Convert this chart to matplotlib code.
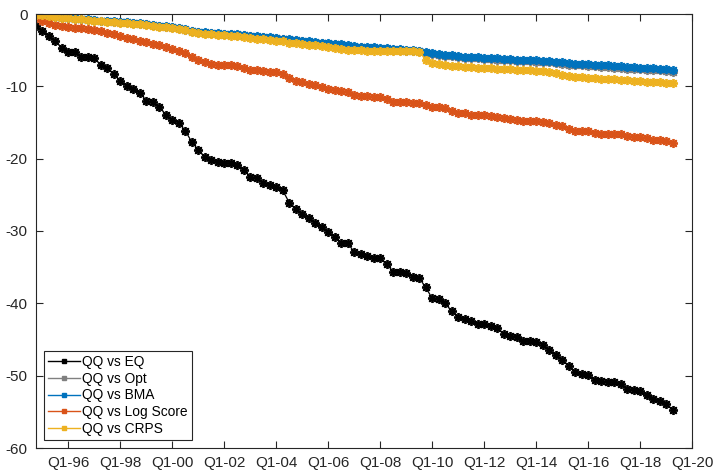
import matplotlib
matplotlib.use("Agg")
import matplotlib.pyplot as plt
from matplotlib.lines import Line2D
import numpy as np

plt.rcParams['font.family'] = ['Liberation Sans', 'DejaVu Sans']
plt.rcParams['axes.unicode_minus'] = False

# quarters from Q4-94 to Q2-19 (index 0..98)
tick_pos = [5, 13, 21, 29, 37, 45, 53, 61, 69, 77, 85, 93, 101]
tick_labels = ["Q1-96", "Q1-98", "Q1-00", "Q1-02", "Q1-04", "Q1-06", "Q1-08",
               "Q1-10", "Q1-12", "Q1-14", "Q1-16", "Q1-18", "Q1-20"]
y_ticks = [0, -10, -20, -30, -40, -50, -60]

qq_eq = [-1.6, -2.3, -3.0, -3.8, -4.7, -5.2, -5.2, -5.9, -5.9, -6.1,
         -7.1, -7.5, -8.3, -9.3, -9.9, -10.4, -10.9, -12.0, -12.2, -12.9,
         -13.9, -14.7, -15.0, -16.2, -17.7, -18.8, -19.8, -20.2, -20.4, -20.6,
         -20.6, -20.9, -21.5, -22.5, -22.7, -23.4, -23.7, -23.9, -24.4, -26.1,
         -26.9, -27.7, -28.2, -28.9, -29.5, -30.2, -30.8, -31.6, -31.7, -32.9,
         -33.2, -33.5, -33.8, -33.8, -34.6, -35.6, -35.7, -35.8, -36.3, -36.5,
         -37.8, -39.3, -39.4, -40.0, -41.1, -41.9, -42.2, -42.5, -42.9, -42.9,
         -43.1, -43.4, -44.2, -44.5, -44.6, -45.2, -45.2, -45.3, -45.7, -46.5,
         -47.1, -47.8, -48.6, -49.5, -49.8, -49.9, -50.6, -50.8, -50.9, -50.9,
         -51.1, -51.8, -52.0, -52.1, -52.7, -53.2, -53.5, -53.9, -54.7]

qq_opt = [-0.15, -0.25, -0.35, -0.4, -0.5, -0.55, -0.65, -0.7, -0.8, -0.85,
          -0.95, -1.0, -1.05, -1.1, -1.15, -1.25, -1.35, -1.45, -1.55, -1.65,
          -1.75, -1.85, -2.0, -2.15, -2.35, -2.5, -2.6, -2.65, -2.7, -2.75,
          -2.8, -2.85, -2.95, -3.05, -3.15, -3.2, -3.25, -3.35, -3.45, -3.55,
          -3.65, -3.8, -3.9, -3.95, -4.05, -4.1, -4.2, -4.3, -4.45, -4.55,
          -4.6, -4.65, -4.7, -4.8, -4.85, -4.95, -5.0, -5.05, -5.1, -5.15,
          -5.4, -5.55, -5.65, -5.75, -5.8, -5.9, -6.05, -6.1, -6.15, -6.2,
          -6.25, -6.3, -6.35, -6.4, -6.5, -6.5, -6.55, -6.6, -6.65, -6.7,
          -6.8, -6.9, -7.0, -7.05, -7.1, -7.15, -7.25, -7.3, -7.35, -7.4,
          -7.45, -7.55, -7.6, -7.65, -7.7, -7.75, -7.8, -7.9, -8.0]

qq_bma = [-0.1, -0.2, -0.3, -0.35, -0.45, -0.5, -0.6, -0.65, -0.75, -0.8,
          -0.9, -0.95, -1.0, -1.05, -1.1, -1.2, -1.3, -1.4, -1.5, -1.6,
          -1.7, -1.8, -1.95, -2.1, -2.3, -2.45, -2.55, -2.6, -2.65, -2.7,
          -2.75, -2.8, -2.9, -3.0, -3.1, -3.15, -3.2, -3.3, -3.4, -3.5,
          -3.6, -3.7, -3.8, -3.85, -3.95, -4.0, -4.1, -4.2, -4.35, -4.45,
          -4.5, -4.55, -4.6, -4.7, -4.75, -4.85, -4.9, -4.95, -5.0, -5.05,
          -5.25, -5.4, -5.5, -5.6, -5.65, -5.75, -5.9, -5.95, -6.0, -6.05,
          -6.1, -6.15, -6.2, -6.25, -6.3, -6.3, -6.35, -6.4, -6.45, -6.5,
          -6.6, -6.7, -6.8, -6.85, -6.9, -6.95, -7.0, -7.05, -7.1, -7.15,
          -7.2, -7.3, -7.35, -7.4, -7.45, -7.5, -7.55, -7.6, -7.7]

qq_log = [-0.5, -0.9, -1.2, -1.5, -1.7, -1.8, -1.9, -2.0, -2.1, -2.2,
          -2.3, -2.6, -2.8, -3.1, -3.3, -3.5, -3.7, -3.9, -4.1, -4.3,
          -4.6, -4.8, -5.1, -5.4, -6.0, -6.4, -6.7, -6.9, -7.0, -7.0,
          -7.05, -7.2, -7.5, -7.7, -7.8, -7.9, -7.97, -8.07, -8.3, -8.9,
          -9.2, -9.45, -9.7, -9.86, -10.05, -10.3, -10.5, -10.7, -10.8, -11.15,
          -11.3, -11.4, -11.5, -11.5, -11.7, -12.1, -12.1, -12.1, -12.3, -12.35,
          -12.6, -12.8, -12.8, -13.0, -13.4, -13.65, -13.7, -13.9, -13.9, -13.96,
          -14.06, -14.2, -14.4, -14.5, -14.6, -14.75, -14.75, -14.75, -14.9, -15.1,
          -15.4, -15.5, -15.85, -16.2, -16.2, -16.2, -16.5, -16.6, -16.55, -16.55,
          -16.6, -16.9, -16.95, -16.95, -17.2, -17.4, -17.4, -17.6, -17.8]

qq_crps = [-0.1, -0.2, -0.3, -0.4, -0.5, -0.55, -0.65, -0.7, -0.8, -0.9,
           -0.95, -1.05, -1.1, -1.2, -1.25, -1.35, -1.45, -1.55, -1.65, -1.75,
           -1.85, -1.95, -2.1, -2.25, -2.45, -2.6, -2.75, -2.8, -2.85, -2.9,
           -3.0, -3.1, -3.2, -3.3, -3.4, -3.5, -3.6, -3.7, -3.8, -3.95,
           -4.05, -4.15, -4.25, -4.35, -4.45, -4.6, -4.7, -4.85, -4.95, -5.0,
           -5.0, -5.05, -5.05, -5.1, -5.1, -5.1, -5.15, -5.15, -5.15, -5.2,
           -6.3, -6.8, -6.95, -7.05, -7.15, -7.25, -7.3, -7.35, -7.4, -7.45,
           -7.5, -7.55, -7.6, -7.65, -7.7, -7.75, -7.8, -7.85, -7.9, -8.0,
           -8.2, -8.4, -8.55, -8.65, -8.75, -8.85, -8.9, -8.95, -9.0, -9.05,
           -9.1, -9.15, -9.2, -9.3, -9.35, -9.4, -9.45, -9.5, -9.6]

series = [("QQ vs EQ", qq_eq, "black"),
          ("QQ vs Opt", qq_opt, "#808080"),
          ("QQ vs BMA", qq_bma, "#0072BD"),
          ("QQ vs Log Score", qq_log, "#D95319"),
          ("QQ vs CRPS", qq_crps, "#EDB120")]

axis_col = "#262626"
asterisk = (8, 2, 0)

fig = plt.figure(figsize=(7.15, 4.72), dpi=100)
ax = fig.add_axes([36 / 715, 24 / 472, 656 / 715, 434 / 472])

handles = []
for label, values, col in series:
    x = np.arange(len(values))
    ax.plot(x, values, color=col, linewidth=0.9, marker=asterisk,
            markersize=6.5, markeredgewidth=1.3)
    handles.append(Line2D([], [], color=col, linewidth=1.0, marker="s",
                          markersize=3, label=label))

ax.set_xlim(0, 101)
ax.set_ylim(-60, 0)
ax.set_xticks(tick_pos)
ax.set_xticklabels(tick_labels)
ax.set_yticks(y_ticks)

ax.tick_params(direction="in", length=5, width=0.8, top=True, right=True,
               labelsize=11, colors=axis_col, pad=6)
for s in ax.spines.values():
    s.set_color(axis_col)
    s.set_linewidth(0.8)

leg = ax.legend(handles=handles, loc="lower left",
                bbox_to_anchor=(8 / 656, 8 / 434), borderaxespad=0,
                fontsize=9.9, fancybox=False, framealpha=1,
                edgecolor=axis_col, handlelength=2.3, handletextpad=0.2,
                labelspacing=0.2, borderpad=0.3)
leg.get_frame().set_linewidth(0.8)

fig.savefig("out.png", dpi=100)
